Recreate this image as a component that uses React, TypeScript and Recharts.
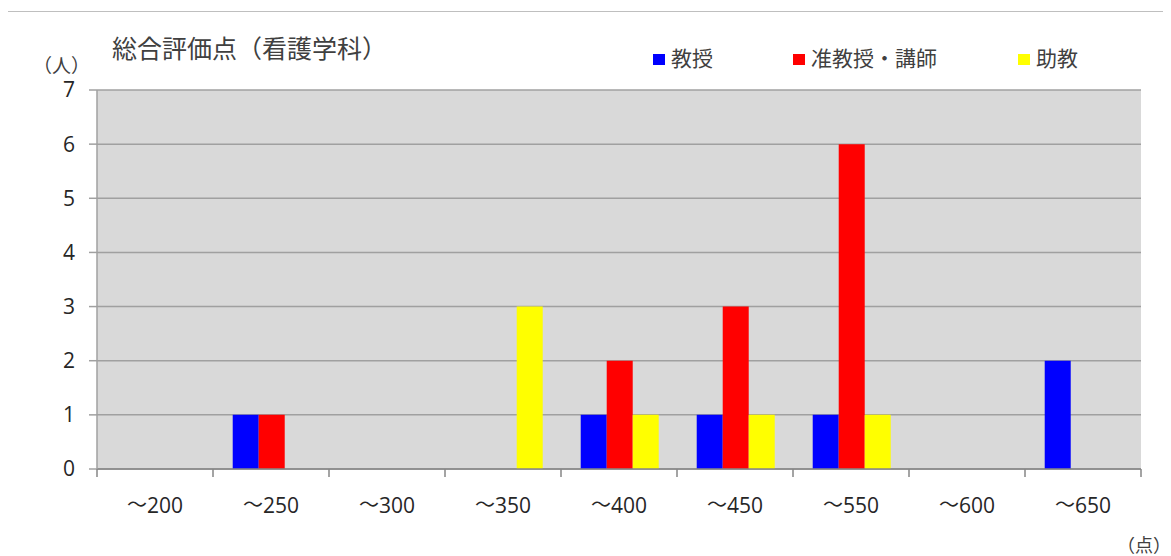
import React from 'react';
import { BarChart, Bar, XAxis, YAxis, CartesianGrid, Legend } from 'recharts';

const categories = ['～200', '～250', '～300', '～350', '～400', '～450', '～550', '～600', '～650'];
const professor = [0, 1, 0, 0, 1, 1, 1, 0, 2];
const associate = [0, 1, 0, 0, 2, 3, 6, 0, 0];
const assistant = [0, 0, 0, 3, 1, 1, 1, 0, 0];
const yTicks = [0, 1, 2, 3, 4, 5, 6, 7];

const seriesNames = ['教授', '准教授・講師', '助教'];
const seriesColors = ['#0000FF', '#FF0000', '#FFFF00'];

const data = categories.map((c, i) => ({
  name: c,
  s0: professor[i],
  s1: associate[i],
  s2: assistant[i],
}));

const JP = '"Noto Sans CJK JP", "Noto Sans", sans-serif';
const NUM = '"Open Sans", "Noto Sans", sans-serif';
const LEGEND_H = 30;

const XTick = (props: any) => {
  const { x, y, payload, index } = props;
  const half = payload && typeof payload.offset === 'number' && payload.offset > 0 ? payload.offset : 58;
  const last = index === categories.length - 1;
  const v = String(payload.value);
  const wave = v.charAt(0);
  const num = v.slice(1);
  return (
    <g>
      <line x1={x - half} x2={x - half} y1={y - 8} y2={y} stroke="#868686" strokeWidth={1.5} />
      {last && <line x1={x + half} x2={x + half} y1={y - 8} y2={y} stroke="#868686" strokeWidth={1.5} />}
      <text x={x} y={y + 30} textAnchor="middle" dominantBaseline="middle" fontSize={21} fill="#262626">
        <tspan fontFamily={JP} fontSize={20}>{wave}</tspan>
        <tspan fontFamily={NUM}>{num}</tspan>
      </text>
    </g>
  );
};

const LegendContent = () => {
  const lefts = [646, 786, 1011];
  return (
    <div style={{ position: 'relative', width: '100%', height: LEGEND_H }}>
      {seriesNames.map((n, i) => (
        <div key={n} style={{ position: 'absolute', left: lefts[i], top: 0, display: 'flex', alignItems: 'center', fontFamily: JP, fontSize: 21, color: '#404040', whiteSpace: 'nowrap' }}>
          <span style={{ display: 'inline-block', width: 12, height: 11, background: seriesColors[i], marginRight: 6, marginTop: 5 }} />
          <span>{n}</span>
        </div>
      ))}
    </div>
  );
};

export default function App() {
  return (
    <div style={{ position: 'relative', width: 1164, height: 549, margin: '-1px 0 0 -1px', overflow: 'hidden', background: '#fff' }}>
      <div style={{ position: 'absolute', left: 0, top: 4, width: 2000, height: 2000, borderTop: '1px solid #BFBFBF', borderLeft: '1px solid #BFBFBF' }} />
      <div style={{ position: 'absolute', left: 105, top: 22, fontFamily: JP, fontSize: 25, color: '#404040', whiteSpace: 'nowrap' }}>総合評価点（看護学科）</div>
      <div style={{ position: 'absolute', left: 26, top: 44, fontFamily: JP, fontSize: 19, color: '#404040', whiteSpace: 'nowrap' }}>（人）</div>
      <div style={{ position: 'absolute', left: 1110, top: 524, fontFamily: JP, fontSize: 18, color: '#404040', whiteSpace: 'nowrap' }}>（点）</div>
      <div style={{ position: 'absolute', left: 0, top: 0 }}>
        <BarChart width={1164} height={549} data={data} margin={{ top: 83 - LEGEND_H, right: 30, bottom: 47, left: 0 }} barCategoryGap="17%" barGap={0}>
          <CartesianGrid vertical={false} fill="#D9D9D9" stroke="#A0A0A0" strokeWidth={1.5} />
          <XAxis dataKey="name" height={40} axisLine={{ stroke: '#868686', strokeWidth: 1.5 }} tickLine={false} tick={<XTick />} interval={0} />
          <YAxis width={90} domain={[0, 7]} ticks={yTicks} interval={0} axisLine={{ stroke: '#A0A0A0', strokeWidth: 1.5 }} tickLine={{ stroke: '#A0A0A0', strokeWidth: 1.5 }} tickSize={8} tickMargin={14} tick={{ fontFamily: NUM, fontSize: 21, fill: '#262626' }} />
          <Legend verticalAlign="top" content={<LegendContent />} wrapperStyle={{ position: 'absolute', top: 35, left: 0, width: 1164, height: LEGEND_H }} />
          <Bar dataKey="s0" name={seriesNames[0]} fill={seriesColors[0]} isAnimationActive={false} />
          <Bar dataKey="s1" name={seriesNames[1]} fill={seriesColors[1]} isAnimationActive={false} />
          <Bar dataKey="s2" name={seriesNames[2]} fill={seriesColors[2]} isAnimationActive={false} />
        </BarChart>
      </div>
    </div>
  );
}
